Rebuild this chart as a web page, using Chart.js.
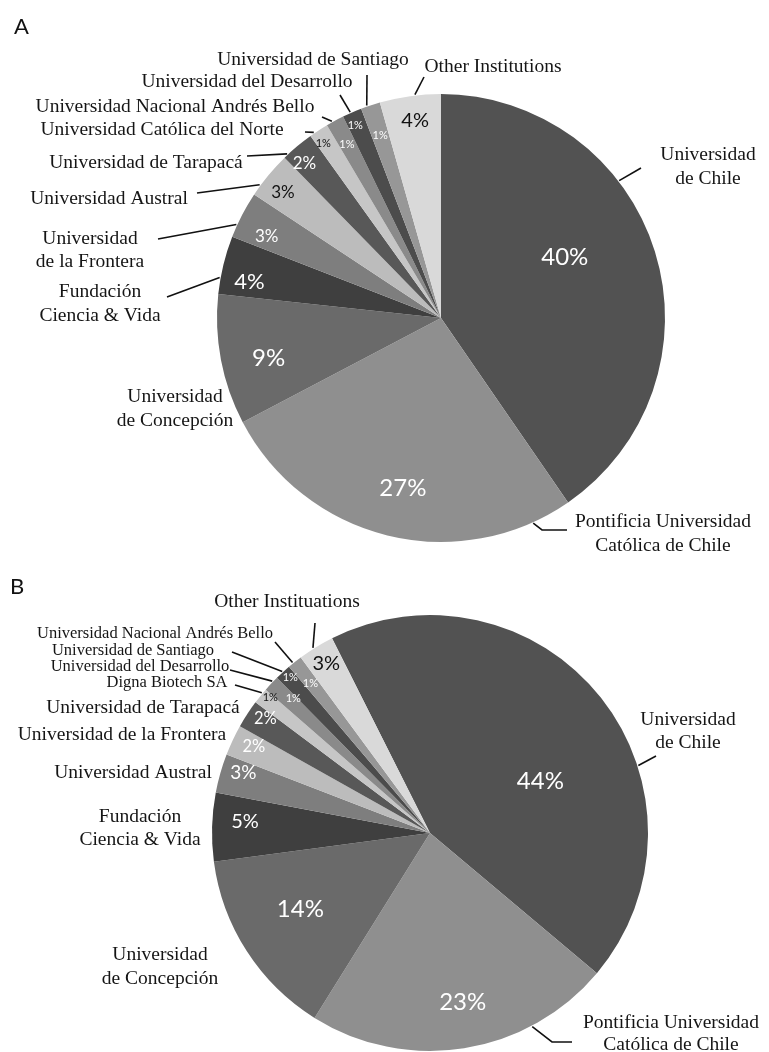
<!DOCTYPE html>
<html><head><meta charset="utf-8">
<script src="https://cdn.jsdelivr.net/npm/chart.js@4.4.1/dist/chart.umd.min.js"></script>
<style>
html,body{margin:0;padding:0;background:#fff;width:769px;height:1052px;overflow:hidden;}
canvas{position:absolute;left:0;display:block;}
#ca{top:0}
#cb{top:560px}
</style></head><body>
<canvas id="ca" width="769" height="560"></canvas>
<canvas id="cb" width="769" height="492"></canvas>
<script>
// ---- data (shares of total) ----
const categoriesA = ['Universidad de Chile','Pontificia Universidad Católica de Chile','Universidad de Concepción','Fundación Ciencia & Vida','Universidad de la Frontera','Universidad Austral','Universidad de Tarapacá','Universidad Católica del Norte','Universidad Nacional Andrés Bello','Universidad del Desarrollo','Universidad de Santiago','Other Institutions'];
const valuesA = [40.4, 26.9, 9.4, 4.2, 3.4, 3.4, 2.4, 1.4, 1.3, 1.4, 1.4, 4.4];

const categoriesB = ['Universidad de Chile','Pontificia Universidad Católica de Chile','Universidad de Concepción','Fundación Ciencia & Vida','Universidad Austral','Universidad de la Frontera','Universidad de Tarapacá','Digna Biotech SA','Universidad del Desarrollo','Universidad de Santiago','Universidad Nacional Andrés Bello','Other Instituations'];
const valuesB = [43.8, 22.9, 14.1, 5.1, 2.9, 2.3, 2.1, 1.2, 1.2, 1.2, 1.1, 2.7];

const panelLetters = ['A', 'B'];

// ---- styles ----
const sliceColors = ['#525252','#8f8f8f','#6a6a6a','#3f3f3f','#7e7e7e','#bcbcbc','#585858','#c6c6c6','#8a8a8a','#4c4c4c','#979797','#d9d9d9'];

const innerA = [
  {rf:.615, af:.44, size:24, color:'#fff'},
  {rf:.78, af:.487, size:24, color:'#fff'},
  {rf:.79, af:.435, size:24, color:'#fff'},
  {rf:.87, af:.3, size:22, color:'#fff'},
  {rf:.86, af:.32, size:17, color:'#fff'},
  {rf:.9, af:.4, size:17, color:'#111'},
  {rf:.92, af:.32, size:17, color:'#fff'},
  {rf:.94, af:.33, size:11, color:'#111'},
  {rf:.88, af:.45, size:11, color:'#fff'},
  {rf:.94, af:.38, size:11, color:'#fff'},
  {rf:.86, af:.49, size:11, color:'#fff'},
  {rf:.89, af:.53, size:20, color:'#111'}
];
const outerA = [
  {x:708, y:155, split:1, lh:24, line:[[641,168]], f:.36},
  {x:663, y:522, split:2, lh:24, line:[[567,530],[542,530]], f:.107},
  {x:175, y:397, split:1, lh:24},
  {x:100, y:292, split:1, lh:24, line:[[167,297]], f:.28},
  {x:90, y:239, split:1, lh:23, line:[[158,239]], f:.27},
  {x:109, y:199, line:[[197,193]], f:.23},
  {x:146, y:163, line:[[247,156]], f:.13},
  {x:162, y:130, line:[[305,132]], f:.24},
  {x:175, y:107, line:[[322,117]], f:.34},
  {x:247, y:82, line:[[340,95]], f:.42},
  {x:313, y:60, line:[[367,75]], f:.32},
  {x:493, y:67, line:[[424,77]], f:.58}
];

const innerB = [
  {rf:.56, af:.583, size:24, color:'#fff'},
  {rf:.79, af:.476, size:24, color:'#fff'},
  {rf:.69, af:.545, size:24, color:'#fff'},
  {rf:.85, af:.6, size:20, color:'#fff'},
  {rf:.9, af:.69, size:19, color:'#fff'},
  {rf:.9, af:.62, size:16.5, color:'#fff'},
  {rf:.92, af:.73, size:16.5, color:'#fff'},
  {rf:.96, af:.8, size:11, color:'#111'},
  {rf:.88, af:.8, size:11, color:'#fff'},
  {rf:.96, af:.63, size:11, color:'#fff'},
  {rf:.88, af:.44, size:11, color:'#fff'},
  {rf:.91, af:.5, size:20, color:'#111'}
];
const outerB = [
  {x:688, y:160, split:1, lh:23, line:[[656,196]], f:.63},
  {x:671, y:463, split:2, lh:22, line:[[572,482],[552,482]], f:.27},
  {x:160, y:395, split:1, lh:24},
  {x:140, y:257, split:1, lh:23},
  {x:133, y:213},
  {x:122, y:175},
  {x:143, y:148},
  {x:167, y:123, size:16.5, line:[[235,125]], f:.7},
  {x:140, y:107, size:16.5, line:[[230,110]], f:.65},
  {x:133, y:91, size:16.5, line:[[232,92]], f:.5},
  {x:155, y:74, size:16.5, line:[[275,82]], f:.36},
  {x:287, y:42, line:[[315,63]], f:.42}
];

const sliceLabels = {
  id: 'sliceLabels',
  afterDatasetsDraw(chart) {
    const cfg = chart.options.plugins.sliceLabels;
    const ctx = chart.ctx;
    const meta = chart.getDatasetMeta(0);
    const data = chart.data.datasets[0].data;
    const total = data.reduce((a, b) => a + b, 0);
    ctx.save();
    meta.data.forEach((arc, i) => {
      const p = arc.getProps(['x','y','startAngle','endAngle','outerRadius'], true);
      const ic = cfg.inner[i];
      const a = p.startAngle + ic.af * (p.endAngle - p.startAngle);
      const r = p.outerRadius * ic.rf;
      ctx.font = ic.size + 'px Lato';
      ctx.fillStyle = ic.color;
      ctx.textAlign = 'center';
      ctx.textBaseline = 'middle';
      ctx.fillText(Math.round(data[i] / total * 100) + '%', p.x + Math.cos(a) * r, p.y + Math.sin(a) * r);

      const oc = cfg.outer[i];
      const name = chart.data.labels[i];
      const words = name.split(' ');
      const lines = oc.split ? [words.slice(0, oc.split).join(' '), words.slice(oc.split).join(' ')] : [name];
      ctx.font = (oc.size || 19.5) + 'px "Liberation Serif"';
      ctx.fillStyle = '#151515';
      lines.forEach((t, k) => ctx.fillText(t, oc.x, oc.y + k * (oc.lh || 24)));
      if (oc.line) {
        const ea = p.startAngle + oc.f * (p.endAngle - p.startAngle);
        ctx.beginPath();
        ctx.moveTo(oc.line[0][0], oc.line[0][1]);
        for (let k = 1; k < oc.line.length; k++) ctx.lineTo(oc.line[k][0], oc.line[k][1]);
        ctx.lineTo(p.x + Math.cos(ea) * (p.outerRadius + 1), p.y + Math.sin(ea) * (p.outerRadius + 1));
        ctx.strokeStyle = '#111';
        ctx.lineWidth = 1.6;
        ctx.stroke();
      }
    });
    ctx.font = '22px Lato';
    ctx.fillStyle = '#111';
    ctx.textAlign = 'left';
    ctx.textBaseline = 'alphabetic';
    ctx.fillText(cfg.panel, cfg.panelX, cfg.panelY);
    ctx.restore();
  }
};

function makePie(id, cats, vals, inner, outer, panel, geom) {
  const c = document.getElementById(id);
  const W = c.width, H = c.height;
  return new Chart(c, {
    type: 'pie',
    data: {
      labels: cats,
      datasets: [{ data: vals, backgroundColor: sliceColors, borderWidth: 0, hoverOffset: 0 }]
    },
    options: {
      responsive: false,
      animation: false,
      events: [],
      rotation: geom.rotation,
      radius: geom.r,
      layout: { padding: { left: geom.cx - geom.r, right: W - geom.cx - geom.r, top: geom.cy - geom.r, bottom: Math.max(0, H - geom.cy - geom.r) } },
      plugins: {
        legend: { display: false },
        tooltip: { enabled: false },
        sliceLabels: { inner, outer, panel, panelX: geom.px, panelY: geom.py }
      }
    },
    plugins: [sliceLabels]
  });
}

makePie('ca', categoriesA, valuesA, innerA, outerA, panelLetters[0], {cx:441, cy:318, r:224, rotation:0, px:14, py:34});
makePie('cb', categoriesB, valuesB, innerB, outerB, panelLetters[1], {cx:430, cy:273, r:218, rotation:-26.7, px:10, py:34});
</script>
</body></html>
